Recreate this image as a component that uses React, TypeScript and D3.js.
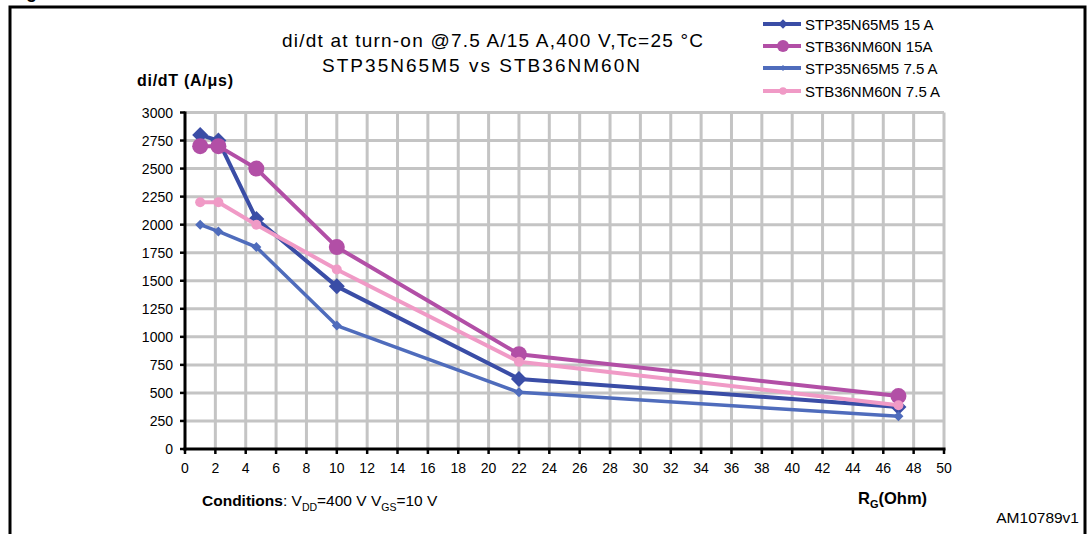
import React from "react";
import * as d3 from "d3";

const rgValues = [1, 2.2, 4.7, 10, 22, 47];
const stp15 = [2800, 2750, 2050, 1450, 625, 375];
const stb15 = [2700, 2700, 2500, 1800, 845, 472];
const stp75 = [2000, 1940, 1800, 1100, 505, 292];
const stb75 = [2200, 2200, 2000, 1600, 778, 390];
const xTicks = d3.range(0, 51, 2);
const yTicks = d3.range(0, 3001, 250);
const seriesNames = ["STP35N65M5 15  A", "STB36NM60N 15A", "STP35N65M5 7.5 A", "STB36NM60N 7.5 A"];

const W = 1087, H = 534;
const font = "'Liberation Sans', Arial, sans-serif";

type S = { name: string; values: number[]; color: string; marker: "diamond" | "circle"; size: number; lw: number };

export default function App() {
  const x = d3.scaleLinear().domain([0, 50]).range([185, 944]);
  const y = d3.scaleLinear().domain([0, 3000]).range([449, 112.5]);
  const series: S[] = [
    { name: seriesNames[0], values: stp15, color: "#3a4da6", marker: "diamond", size: 8, lw: 4 },
    { name: seriesNames[1], values: stb15, color: "#b24fa6", marker: "circle", size: 8, lw: 4 },
    { name: seriesNames[2], values: stp75, color: "#4f6cbc", marker: "diamond", size: 5, lw: 3.5 },
    { name: seriesNames[3], values: stb75, color: "#f09ac6", marker: "circle", size: 5, lw: 4 },
  ];
  const line = d3.line<[number, number]>().x(d => x(d[0])).y(d => y(d[1]));
  const marker = (s: S, cx: number, cy: number, k: string, scale = 1) => {
    const r = s.size * scale;
    if (s.marker === "circle") return <circle key={k} cx={cx} cy={cy} r={r} fill={s.color} />;
    return <path key={k} d={`M${cx},${cy - r}L${cx + r},${cy}L${cx},${cy + r}L${cx - r},${cy}Z`} fill={s.color} />;
  };
  const legendY = [24, 46, 68, 91];
  return (
    <svg width={W} height={H} style={{ position: "absolute", left: 0, top: 0, background: "#fff" }} fontFamily={font}>
      <rect x={0} y={0} width={W} height={H} fill="#fff" />
      <text x={10} y={-2} fontSize={18} fontWeight="bold" fill="#000">Figure</text>
      <path d={`M10,${H}V7H1085V${H}`} fill="none" stroke="#000" strokeWidth={3} />
      {/* grid */}
      {xTicks.filter(t => t > 0).map(t => (
        <line key={"gx" + t} x1={x(t)} x2={x(t)} y1={y(3000)} y2={y(0)} stroke="#c4c4c4" strokeWidth={3} />
      ))}
      {yTicks.filter(t => t > 0).map(t => (
        <line key={"gy" + t} x1={x(0)} x2={x(50)} y1={y(t)} y2={y(t)} stroke="#c4c4c4" strokeWidth={3} />
      ))}
      {/* axes */}
      <line x1={x(0)} x2={x(0)} y1={y(3000) - 1} y2={y(0) + 1.5} stroke="#000" strokeWidth={3} />
      <line x1={x(0) - 1.5} x2={x(50) + 1.5} y1={y(0)} y2={y(0)} stroke="#000" strokeWidth={3} />
      {yTicks.map(t => (
        <g key={"ty" + t}>
          <line x1={x(0) - 5} x2={x(0)} y1={y(t)} y2={y(t)} stroke="#000" strokeWidth={2.5} />
          <text x={x(0) - 12} y={y(t) + 5} textAnchor="end" fontSize={14} fill="#000">{t}</text>
        </g>
      ))}
      {xTicks.map(t => (
        <g key={"tx" + t}>
          <line x1={x(t)} x2={x(t)} y1={y(0)} y2={y(0) + 5} stroke="#000" strokeWidth={2.5} />
          <text x={x(t)} y={y(0) + 23.5} textAnchor="middle" fontSize={14} fill="#000">{t}</text>
        </g>
      ))}
      {/* series */}
      {series.map((s, i) => (
        <g key={"s" + i}>
          <path d={line(rgValues.map((r, j) => [r, s.values[j]] as [number, number])) || ""} fill="none" stroke={s.color} strokeWidth={s.lw} strokeLinejoin="round" />
          {rgValues.map((r, j) => marker(s, x(r), y(s.values[j]), `m${i}-${j}`))}
        </g>
      ))}
      {/* titles */}
      <text x={282} y={47} fontSize={19} fill="#000" textLength={421} lengthAdjust="spacing">di/dt at turn-on @7.5 A/15 A,400 V,Tc=25 °C</text>
      <text x={322} y={72} fontSize={19} fill="#000" textLength={318} lengthAdjust="spacing">STP35N65M5 vs STB36NM60N</text>
      <text x={137} y={86} fontSize={16} fontWeight="bold" fill="#000" textLength={96} lengthAdjust="spacing">di/dT (A/μs)</text>
      {/* legend */}
      {series.map((s, i) => (
        <g key={"l" + i}>
          <line x1={763} x2={801} y1={legendY[i]} y2={legendY[i]} stroke={s.color} strokeWidth={4} />
          {marker(s, 783, legendY[i], "lm" + i, i % 2 === 0 ? 0.6 : 0.75)}
          <text x={805} y={legendY[i] + 5.5} fontSize={15} fill="#000">{s.name}</text>
        </g>
      ))}
      {/* footer */}
      <text x={202} y={506} fontSize={15.5} fill="#000">
        <tspan fontWeight="bold">Conditions</tspan>
        <tspan>: V</tspan>
        <tspan fontSize={10.5} dy={5}>DD</tspan>
        <tspan dy={-5}>=400 V V</tspan>
        <tspan fontSize={10.5} dy={5}>GS</tspan>
        <tspan dy={-5}>=10 V</tspan>
      </text>
      <text x={858} y={504} fontSize={16.5} fontWeight="bold" fill="#000">
        <tspan>R</tspan>
        <tspan fontSize={11} dy={4}>G</tspan>
        <tspan dy={-4}>(Ohm)</tspan>
      </text>
      <text x={1079} y={523} textAnchor="end" fontSize={15.5} fill="#000">AM10789v1</text>
    </svg>
  );
}
